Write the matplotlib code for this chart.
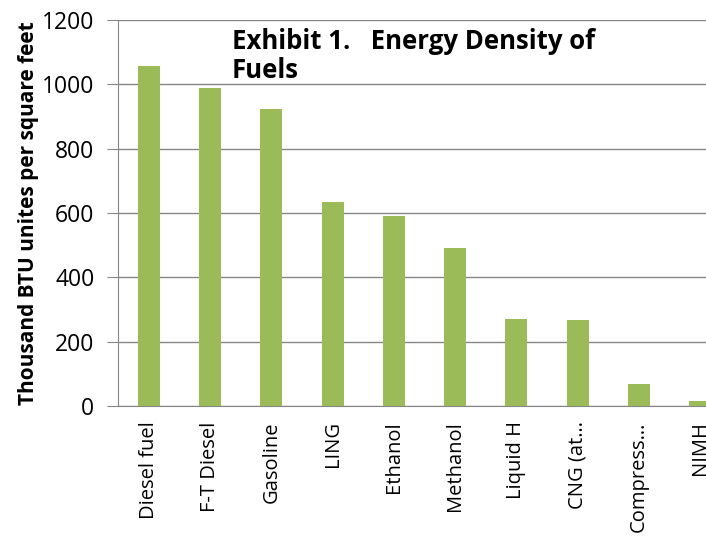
import matplotlib.pyplot as plt

fuels = ["Diesel fuel", "F-T Diesel", "Gasoline", "LING", "Ethanol",
         "Methanol", "Liquid H", "CNG (at\u2026", "Compress\u2026", "NIMH"]
density = [1058, 990, 924, 635, 592, 490, 270, 267, 68, 16]

plt.rcParams['font.family'] = ['Open Sans', 'DejaVu Sans']

fig = plt.figure(figsize=(7.06, 5.37), dpi=100)
# plot area runs past the right edge, so the last bar is cut off
ax = fig.add_axes([118 / 706, (537 - 406) / 537, 613 / 706, 386 / 537])

ax.bar(range(len(fuels)), density, width=0.36, color="#9BBB59", zorder=3)
ax.set_xlim(-0.5, len(fuels) - 0.5)
ax.set_ylim(0, 1200)
ax.set_yticks(range(0, 1201, 200))
ax.set_xticks(range(len(fuels)))
ax.set_xticklabels(fuels, rotation=90, fontsize=14.5)
ax.tick_params(axis="y", labelsize=16.5, length=8, color="#868686", pad=9)
ax.tick_params(axis="x", length=0, pad=11)

ax.grid(axis="y", color="#868686", linewidth=1, zorder=0)
for s in ["top", "right"]:
    ax.spines[s].set_visible(False)
for s in ["left", "bottom"]:
    ax.spines[s].set_color("#868686")

ax.set_ylabel("Thousand BTU unites per square feet", fontsize=15,
              fontweight="bold", labelpad=2)

fig.text(232 / 706, 1 - 56 / 537, "Exhibit 1.   Energy Density of\nFuels",
         fontsize=18.5, fontweight="bold", va="center", ha="left",
         linespacing=1.1)

fig.savefig("out.png", dpi=100)
